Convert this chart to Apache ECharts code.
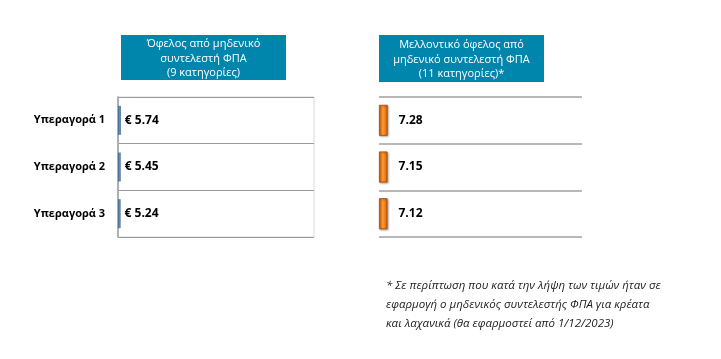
<!DOCTYPE html>
<html>
<head>
<meta charset="utf-8">
<script src="https://cdn.jsdelivr.net/npm/echarts@6/dist/echarts.min.js"></script>
<style>
html,body{margin:0;padding:0;background:#fff;}
#c{width:721px;height:359px;}
</style>
</head>
<body>
<div id="c"></div>
<script>
const categories = ['Υπεραγορά 1', 'Υπεραγορά 2', 'Υπεραγορά 3'];
const currentValues = [5.74, 5.45, 5.24];
const futureValues = [7.28, 7.15, 7.12];
const leftTitle = 'Όφελος από μηδενικό\nσυντελεστή ΦΠΑ\n(9 κατηγορίες)';
const rightTitle = 'Μελλοντικό όφελος από\nμηδενικό συντελεστή ΦΠΑ\n(11 κατηγορίες)*';
const footnote = '* Σε περίπτωση που κατά την λήψη των τιμών ήταν σε\nεφαρμογή ο μηδενικός συντελεστής ΦΠΑ για κρέατα\nκαι λαχανικά (θα εφαρμοστεί από 1/12/2023)';

const FONT = '"Open Sans", "Liberation Sans", sans-serif';
const chart = echarts.init(document.getElementById('c'));

function titleBox(x, y, w, h, txt) {
  return {
    type: 'group', left: x, top: y,
    children: [
      { type: 'rect', shape: { x: 0, y: 0, width: w, height: h }, style: { fill: '#0086ad' } },
      { type: 'text', x: w / 2, y: h / 2 + 1,
        style: { text: txt, fill: '#fff', font: '11px ' + FONT, textAlign: 'center', textVerticalAlign: 'middle', lineHeight: 14.5 } }
    ]
  };
}

chart.setOption({
  animation: false,
  grid: [
    { left: 118, top: 97, width: 196, height: 140, show: true, borderColor: '#d3dbe6', borderWidth: 1, backgroundColor: 'transparent' },
    { left: 379, top: 97, width: 203, height: 140 }
  ],
  xAxis: [
    { gridIndex: 0, type: 'value', min: 0, max: 400, show: false },
    { gridIndex: 1, type: 'value', min: 0, max: 170, show: false }
  ],
  yAxis: [
    { gridIndex: 0, type: 'category', data: categories, inverse: true,
      axisLine: { show: true, lineStyle: { color: '#a9b0b8', width: 2 } },
      axisTick: { show: false },
      splitLine: { show: true, interval: 0, lineStyle: { color: '#9a9a9a', width: 1.2 } },
      axisLabel: { margin: 13, color: '#000', fontWeight: 'bold', fontSize: 11, fontFamily: FONT } },
    { gridIndex: 1, type: 'category', data: categories, inverse: true,
      axisLine: { show: false }, axisTick: { show: false },
      splitLine: { show: true, interval: 0, lineStyle: { color: '#a0a0a0', width: 1.5 } },
      axisLabel: { show: false } }
  ],
  series: [
    { type: 'bar', xAxisIndex: 0, yAxisIndex: 0, data: currentValues, barWidth: 29,
      itemStyle: { color: new echarts.graphic.LinearGradient(0, 0, 1, 0, [
        { offset: 0, color: '#3e6189' }, { offset: 0.5, color: '#6a8db2' }, { offset: 1, color: '#3e6189' }]) },
      label: { show: true, position: 'right', distance: 4, formatter: '€ {c}', color: '#000', fontWeight: 'bold', fontSize: 12, fontFamily: FONT } },
    { type: 'bar', xAxisIndex: 1, yAxisIndex: 1, data: futureValues, barWidth: 31,
      itemStyle: { color: new echarts.graphic.LinearGradient(0, 0, 1, 0, [
        { offset: 0, color: '#d86400' }, { offset: 0.45, color: '#ff9a33' }, { offset: 1, color: '#d66000' }]),
        borderColor: '#a04c0c', borderWidth: 0.8,
        shadowColor: 'rgba(0,0,0,0.35)', shadowBlur: 2, shadowOffsetX: 1, shadowOffsetY: 1 },
      label: { show: true, position: 'right', distance: 11, formatter: '{c}', color: '#000', fontWeight: 'bold', fontSize: 12, fontFamily: FONT } }
  ],
  graphic: [
    titleBox(121, 35, 165, 45, leftTitle),
    titleBox(379, 35, 165, 47, rightTitle),
    { type: 'text', left: 386, top: 276,
      style: { text: footnote, fill: '#222', font: 'italic 11.5px ' + FONT, lineHeight: 19 } }
  ]
});
</script>
</body>
</html>
